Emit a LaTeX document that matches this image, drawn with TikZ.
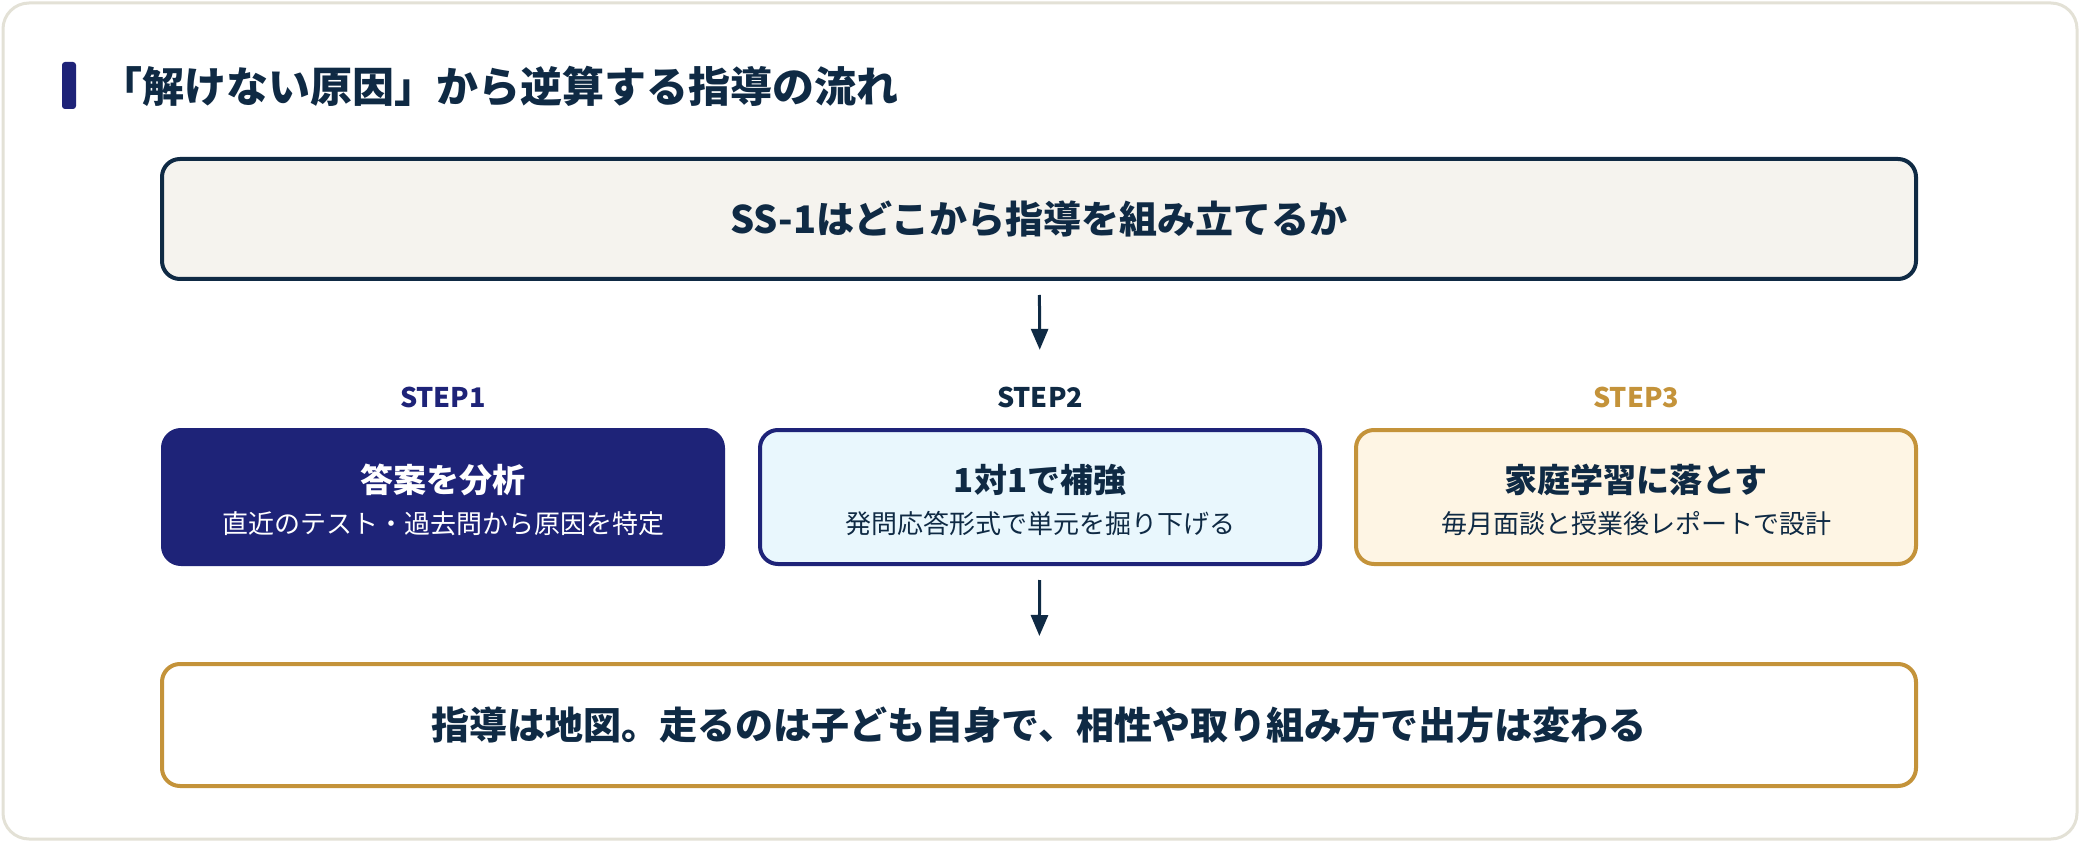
\documentclass[tikz,border=0pt]{standalone}
\usepackage{fontspec}
\setmainfont{Noto Sans CJK JP}
\usetikzlibrary{arrows.meta}
\definecolor{ink}{HTML}{0F2A44}
\definecolor{navy}{HTML}{1E2378}
\definecolor{gold}{HTML}{C4933A}
\definecolor{paper}{HTML}{F5F3EE}
\definecolor{sky}{HTML}{E9F7FD}
\definecolor{cream}{HTML}{FEF5E4}
\definecolor{edge}{HTML}{E3E1D6}
\newcommand{\fs}[1]{\fontsize{#1}{#1}\selectfont}
\begin{document}
\begin{tikzpicture}[x=1pt,y=-1pt,
    wide/.style={draw, rounded corners=18pt, line width=4pt, minimum width=1754pt, minimum height=120pt, inner sep=0pt, text=ink, font=\bfseries\fs{38}},
    stepbox/.style={draw, rounded corners=18pt, line width=4pt, minimum width=560pt, minimum height=134pt, inner sep=0pt},
    steplab/.style={font=\bfseries\fs{27}, minimum height=40pt, inner sep=0pt},
    head/.style={font=\bfseries\fs{33}, inner sep=0pt},
    sub/.style={font=\fs{26}, inner sep=0pt},
    arr/.style={ink, line width=3pt, -{Triangle[length=21pt,width=17pt]}}]
\useasboundingbox (0,0) rectangle (2080,842);
\draw[edge, line width=3pt, fill=white, rounded corners=26pt] (3,3) rectangle (2077,839);
\fill[navy, rounded corners=3pt] (62,62) rectangle (76,109);
\node[anchor=west, text=ink, font=\bfseries\fs{42}, inner sep=0pt] (title) at (100,86) {「解けない原因」から逆算する指導の流れ};

\node[wide, draw=ink, fill=paper] (q) at (1039,219) {SS-1はどこから指導を組み立てるか};

\node[steplab, text=navy] (st1) at (443,397) {STEP1};
\node[steplab, text=ink] (st2) at (1040,397) {STEP2};
\node[steplab, text=gold] (st3) at (1636,397) {STEP3};

\node[stepbox, draw=navy, fill=navy] (s1) at (443,497) {};
\node[head, text=white] (h1) at (443,480) {答案を分析};
\node[sub, text=white] (d1) at (443,524) {直近のテスト・過去問から原因を特定};

\node[stepbox, draw=navy, fill=sky] (s2) at (1040,497) {};
\node[head, text=ink] (h2) at (1040,480) {1対1で補強};
\node[sub, text=ink] (d2) at (1040,524) {発問応答形式で単元を掘り下げる};

\node[stepbox, draw=gold, fill=cream] (s3) at (1636,497) {};
\node[head, text=ink] (h3) at (1636,480) {家庭学習に落とす};
\node[sub, text=ink] (d3) at (1636,524) {毎月面談と授業後レポートで設計};

\node[wide, draw=gold, fill=white, minimum height=122pt] (map) at (1039,725) {指導は地図。走るのは子ども自身で、相性や取り組み方で出方は変わる};

\draw[arr, shorten <=14pt, shorten >=27pt] (q) -- (st2);
\draw[arr, shorten <=14pt, shorten >=26pt] (s2) -- (map);
\end{tikzpicture}
\end{document}
